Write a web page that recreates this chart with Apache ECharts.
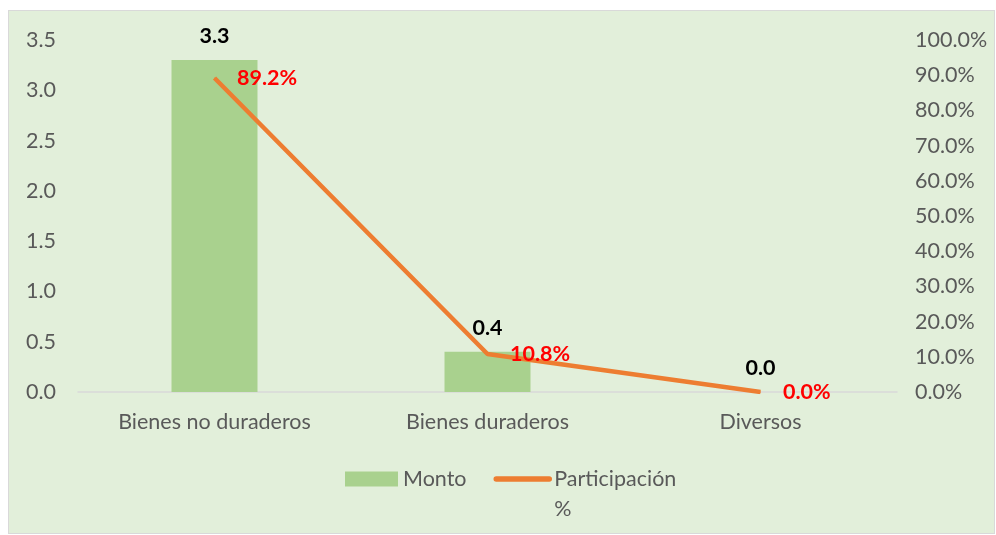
<!DOCTYPE html>
<html>
<head>
<meta charset="utf-8">
<script src="https://cdn.jsdelivr.net/npm/echarts@6/dist/echarts.min.js"></script>
<style>
  html, body { margin: 0; padding: 0; background: #ffffff; }
  #chart {
    position: absolute;
    left: 8px;
    top: 10px;
    width: 985px;
    height: 522px;
    border: 1px solid #d9d9d9;
  }
</style>
</head>
<body>
<div id="chart"></div>
<script>
// datos del grafico
const categorias = ['Bienes no duraderos', 'Bienes duraderos', 'Diversos'];
const monto = [3.3, 0.4, 0.0];
const participacion = [89.2, 10.8, 0.0];

const FONT = 'Lato, "Open Sans", sans-serif';
const FS = 21.5;

const chart = echarts.init(document.getElementById('chart'));
const option = {
    backgroundColor: '#E2EFDA',
    textStyle: { fontFamily: FONT },
    grid: {
        left: 69,
        right: 97,
        top: 29,
        bottom: 141
    },
    legend: {
        left: 331,
        top: 418,
        itemWidth: 53,
        itemHeight: 15,
        itemGap: 27,
        textStyle: { fontSize: FS, color: '#595959', fontFamily: FONT, lineHeight: 30 },
        data: [
            { name: 'Monto', icon: 'rect' },
            {
                name: 'Participación %',
                itemStyle: { opacity: 0 },
                lineStyle: { width: 5.5, cap: 'round' }
            }
        ],
        formatter: function (name) {
            // primera linea vacia para que "Participación" quede a la altura del icono
            return name === 'Participación %' ? ' \nParticipación\n%' : name;
        }
    },
    xAxis: {
        type: 'category',
        data: categorias,
        axisTick: { show: false },
        axisLine: { lineStyle: { color: '#D9D9D9', width: 1.5 } },
        axisLabel: { color: '#595959', fontSize: FS, margin: 19, fontFamily: FONT }
    },
    yAxis: [
        {
            type: 'value',
            min: 0,
            max: 3.5,
            interval: 0.5,
            splitLine: { show: false },
            axisLabel: {
                color: '#595959',
                fontSize: FS,
                margin: 22,
                fontFamily: FONT,
                formatter: function (v) { return v.toFixed(1); }
            }
        },
        {
            type: 'value',
            min: 0,
            max: 100,
            interval: 10,
            splitLine: { show: false },
            axisLabel: {
                color: '#595959',
                fontSize: FS,
                margin: 18,
                fontFamily: FONT,
                formatter: function (v) { return v.toFixed(1) + '%'; }
            }
        }
    ],
    series: [
        {
            name: 'Monto',
            type: 'bar',
            data: monto,
            barWidth: 86,
            itemStyle: { color: '#A9D18E' },
            label: {
                show: true,
                position: 'top',
                distance: 13,
                color: '#000000',
                fontWeight: 'bold',
                fontSize: FS,
                fontFamily: FONT,
                formatter: function (p) { return p.value.toFixed(1); }
            }
        },
        {
            name: 'Participación %',
            type: 'line',
            yAxisIndex: 1,
            data: participacion,
            symbol: 'circle',
            symbolSize: 1,
            showSymbol: true,
            lineStyle: { color: '#ED7D31', width: 4.5 },
            itemStyle: { color: '#ED7D31' },
            label: {
                show: true,
                position: 'right',
                distance: 22,
                color: '#FF0000',
                fontWeight: 'bold',
                fontSize: FS,
                fontFamily: FONT,
                formatter: function (p) { return p.value.toFixed(1) + '%'; }
            }
        }
    ]
};
chart.setOption(option);
</script>
</body>
</html>
